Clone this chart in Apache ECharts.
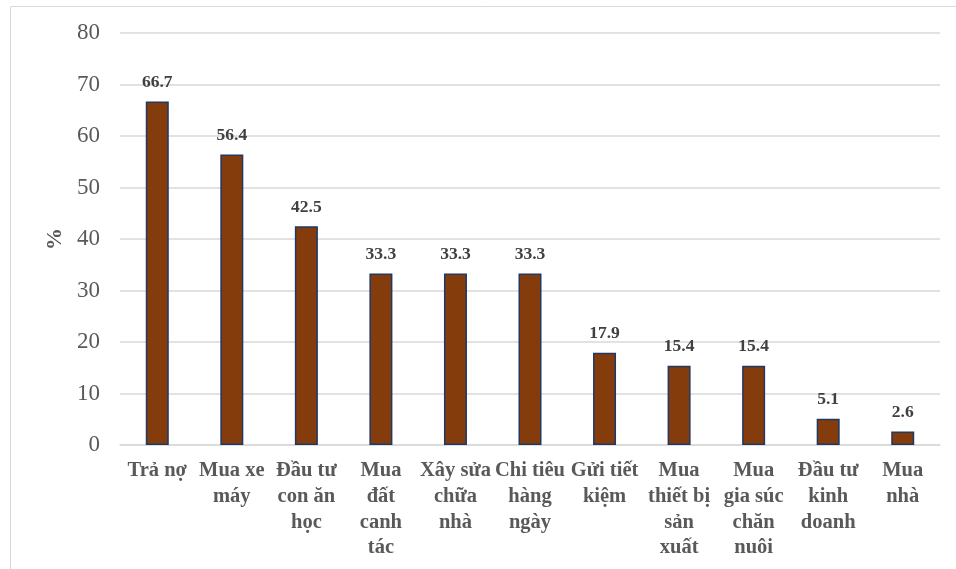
<!DOCTYPE html>
<html><head><meta charset="utf-8">
<script src="https://cdn.jsdelivr.net/npm/echarts@6/dist/echarts.min.js"></script>
<style>html,body{margin:0;padding:0;background:#fff}#c{width:956px;height:569px}</style>
</head><body><div id="c"></div>
<script>
var categories = ["Trả nợ", "Mua xe\nmáy", "Đầu tư\ncon ăn\nhọc", "Mua\nđất\ncanh\ntác", "Xây sửa\nchữa\nnhà", "Chi tiêu\nhàng\nngày", "Gửi tiết\nkiệm", "Mua\nthiết bị\nsản\nxuất", "Mua\ngia súc\nchăn\nnuôi", "Đầu tư\nkinh\ndoanh", "Mua\nnhà"];
var values = [66.7, 56.4, 42.5, 33.3, 33.3, 33.3, 17.9, 15.4, 15.4, 5.1, 2.6];
var yTicks = [0, 10, 20, 30, 40, 50, 60, 70, 80];

var chart = echarts.init(document.getElementById('c'), null, {renderer: 'canvas'});
var serif = '"Liberation Serif", "Times New Roman", serif';
chart.setOption({
  animation: false,
  graphic: [{
    type: 'rect', left: 8, top: 4, shape: {width: 960, height: 580},
    style: {fill: 'none', stroke: '#d9d9d9', lineWidth: 1}, silent: true
  }],
  grid: {left: 120, right: 16, top: 33, bottom: 124},
  xAxis: {
    type: 'category', data: categories,
    axisLine: {lineStyle: {color: '#d9d9d9', width: 1.5}},
    axisTick: {show: false},
    axisLabel: {interval: 0, color: '#595959', fontFamily: serif, fontWeight: 'bold', fontSize: 20.5, lineHeight: 25.7, margin: 13}
  },
  yAxis: {
    type: 'value', min: yTicks[0], max: yTicks[yTicks.length - 1], interval: 10,
    name: '%', nameLocation: 'middle', nameGap: 52, nameRotate: 90,
    nameTextStyle: {color: '#595959', fontFamily: serif, fontWeight: 'bold', fontSize: 22},
    axisLine: {show: false}, axisTick: {show: false},
    axisLabel: {color: '#595959', fontFamily: serif, fontSize: 23, margin: 20},
    splitLine: {lineStyle: {color: '#d9d9d9', width: 1.5}}
  },
  series: [{
    type: 'bar', data: values, barWidth: 23,
    itemStyle: {color: '#843c0c', borderColor: '#1f3864', borderWidth: 1.5},
    label: {show: true, position: 'top', distance: 10, color: '#404040', fontFamily: serif, fontWeight: 'bold', fontSize: 17.5}
  }]
});
</script></body></html>
